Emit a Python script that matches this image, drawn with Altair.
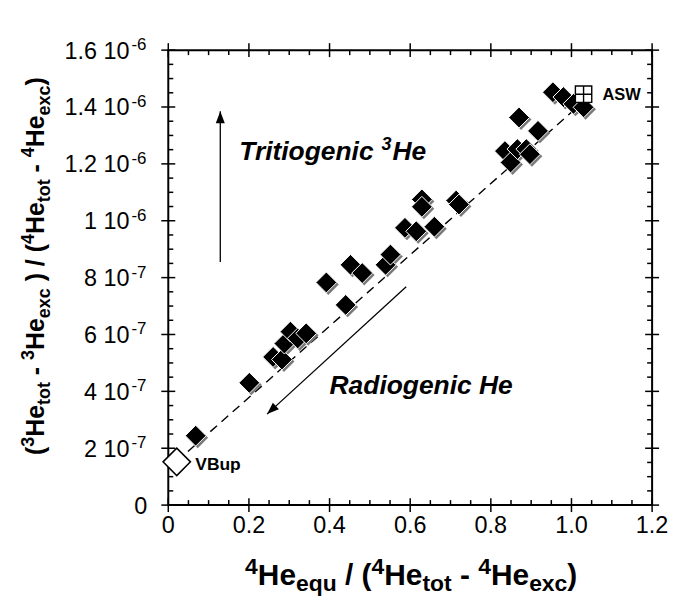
import math
import altair as alt
import pandas as pd

# ---------------- data ----------------
obs_x = [0.068, 0.201, 0.260, 0.282, 0.288, 0.303, 0.321, 0.342,
         0.392, 0.440, 0.452, 0.481, 0.539, 0.551, 0.587, 0.615, 0.660,
         0.629, 0.629, 0.714, 0.721,
         0.835, 0.849, 0.866, 0.888, 0.897, 0.870, 0.917,
         0.954, 0.980, 1.005, 1.030]
obs_y = [2.44e-7, 4.30e-7, 5.21e-7, 5.12e-7, 5.68e-7, 6.10e-7, 5.86e-7, 6.04e-7,
         7.83e-7, 7.04e-7, 8.45e-7, 8.16e-7, 8.45e-7, 8.81e-7, 9.75e-7, 9.63e-7, 9.79e-7,
         1.075e-6, 1.049e-6, 1.071e-6, 1.057e-6,
         1.245e-6, 1.205e-6, 1.252e-6, 1.252e-6, 1.234e-6, 1.363e-6, 1.316e-6,
         1.452e-6, 1.435e-6, 1.411e-6, 1.399e-6]

vbup_x = [0.021]
vbup_y = [1.52e-7]
asw_x = [1.03]
asw_y = [1.445e-6]
mix_x = [0.021, 1.033]
mix_y = [1.54e-7, 1.423e-6]

# arrows (start -> tip)
arrow_x = [0.129, 0.590]
arrow_y = [0.855e-6, 0.768e-6]
arrow_x2 = [0.129, 0.245]
arrow_y2 = [1.385e-6, 0.320e-6]

x_major = [0, 0.2, 0.4, 0.6, 0.8, 1.0, 1.2]
x_labels = ["0", "0.2", "0.4", "0.6", "0.8", "1.0", "1.2"]
x_minor = [0.05, 0.1, 0.15, 0.25, 0.3, 0.35, 0.45, 0.5, 0.55, 0.65, 0.7, 0.75,
           0.85, 0.9, 0.95, 1.05, 1.1, 1.15]
y_major = [0, 2e-7, 4e-7, 6e-7, 8e-7, 1e-6, 1.2e-6, 1.4e-6, 1.6e-6]
y_label_base = ["0", "2 10", "4 10", "6 10", "8 10", "1 10", "1.2 10", "1.4 10", "1.6 10"]
y_label_exp = ["", "-7", "-7", "-7", "-7", "-6", "-6", "-6", "-6"]
y_minor = [k * 5e-8 for k in range(1, 32) if k % 4 != 0]

# ---------------- layout ----------------
W, H = 486, 457
XMAX, YMAX = 1.2, 1.6e-6
FONT = "Liberation Sans"
xs = alt.Scale(domain=[0, XMAX], nice=False, zero=False)
ys = alt.Scale(domain=[0, YMAX], nice=False, zero=False)


def X(f="x"):
    return alt.X(f"{f}:Q", scale=xs, axis=None)


def Y(f="y"):
    return alt.Y(f"{f}:Q", scale=ys, axis=None)


def px(v):
    return v / XMAX * W


def py(v):
    return H - v / YMAX * H


one = pd.DataFrame({"a": [0]})
layers = []

# ticks
xmaj = pd.DataFrame({"v": x_major})
xmin = pd.DataFrame({"v": x_minor})
ymaj = pd.DataFrame({"v": y_major})
ymin = pd.DataFrame({"v": y_minor})
rule = dict(color="black", strokeWidth=1.5)
layers += [
    alt.Chart(xmaj).mark_rule(**rule).encode(x=X("v"), y=alt.value(H - 7), y2=alt.value(H + 7)),
    alt.Chart(xmaj).mark_rule(**rule).encode(x=X("v"), y=alt.value(-7), y2=alt.value(7)),
    alt.Chart(xmin).mark_rule(**rule).encode(x=X("v"), y=alt.value(H - 5), y2=alt.value(H)),
    alt.Chart(xmin).mark_rule(**rule).encode(x=X("v"), y=alt.value(0), y2=alt.value(5)),
    alt.Chart(ymaj).mark_rule(**rule).encode(y=Y("v"), x=alt.value(-7), x2=alt.value(7)),
    alt.Chart(ymaj).mark_rule(**rule).encode(y=Y("v"), x=alt.value(W - 7), x2=alt.value(W + 7)),
    alt.Chart(ymin).mark_rule(**rule).encode(y=Y("v"), x=alt.value(0), x2=alt.value(5)),
    alt.Chart(ymin).mark_rule(**rule).encode(y=Y("v"), x=alt.value(W - 5), x2=alt.value(W)),
]

# tick labels
TICK, TSUP = 23.5, 17
xl = pd.DataFrame({"v": x_major, "t": x_labels})
layers.append(
    alt.Chart(xl).mark_text(font=FONT, fontSize=TICK, align="center", baseline="alphabetic", color="black")
    .encode(x=X("v"), y=alt.value(H + 28), text="t:N"))
yl = pd.DataFrame({"v": y_major, "t": y_label_base, "e": y_label_exp})
yl0 = yl[yl["e"] == ""]
yl1 = yl[yl["e"] != ""]
layers.append(
    alt.Chart(yl1).mark_text(font=FONT, fontSize=TICK, align="right", baseline="alphabetic", dy=8.5, color="black")
    .encode(y=Y("v"), x=alt.value(-39), text="t:N"))
layers.append(
    alt.Chart(yl1).mark_text(font=FONT, fontSize=TSUP, align="left", baseline="alphabetic", dy=0, color="black")
    .encode(y=Y("v"), x=alt.value(-37), text="e:N"))
layers.append(
    alt.Chart(yl0).mark_text(font=FONT, fontSize=TICK, align="right", baseline="alphabetic", dy=8.5, color="black")
    .encode(y=Y("v"), x=alt.value(-21), text="t:N"))

# titles composed of pieces
BOLD = {' ': 278, '(': 333, ')': 333, '/': 278, '-': 333, 'H': 722, 'e': 556, 'q': 611,
        'u': 611, 't': 333, 'o': 611, 'x': 556, 'c': 556, '3': 556, '4': 556}


def tw(s, size):
    return sum(BOLD[c] for c in s) / 1000 * size


def compose(parts, F, s, up, down):
    out, pos = [], 0.0
    for t, k in parts:
        size = F if k == "n" else s
        off = 0 if k == "n" else (-up if k == "sup" else down)
        lead = len(t) - len(t.lstrip(" "))
        body = t.strip(" ")
        if body:
            out.append((body, pos + tw(" " * lead, size), off, size))
        pos += tw(t, size)
    return out, pos


def piece(t, x, y, size, angle=0):
    return alt.Chart(one).mark_text(text=t, font=FONT, fontSize=size, fontWeight="bold",
                                    align="left", baseline="alphabetic", angle=angle,
                                    color="black").encode(x=alt.value(x), y=alt.value(y))


xt_parts = [("4", "sup"), ("He", "n"), ("equ", "sub"), (" / (", "n"), ("4", "sup"), ("He", "n"),
            ("tot", "sub"), (" - ", "n"), ("4", "sup"), ("He", "n"), ("exc", "sub"), (")", "n")]
pieces, total = compose(xt_parts, 30, 23, 11, 6)
cx, base = 244, 537
for t, pos, off, size in pieces:
    layers.append(piece(t, cx - total / 2 + pos, base + off, size))

yt_parts = [("(", "n"), ("3", "sup"), ("He", "n"), ("tot", "sub"), (" - ", "n"), ("3", "sup"),
            ("He", "n"), ("exc", "sub"), (" ) / (", "n"), ("4", "sup"), ("He", "n"), ("tot", "sub"),
            (" - ", "n"), ("4", "sup"), ("He", "n"), ("exc", "sub"), (")", "n")]
pieces, total = compose(yt_parts, 25, 18, 10, 6)
cy, basex = 217, -125
for t, pos, off, size in pieces:
    layers.append(piece(t, basex + off, cy + total / 2 - pos, size, angle=270))

# mixing line
mix = pd.DataFrame({"x": mix_x, "y": mix_y})
layers.append(alt.Chart(mix).mark_line(color="black", strokeWidth=1.4, strokeDash=[9, 6]).encode(x=X(), y=Y()))

# arrows
arr = pd.DataFrame({"x": arrow_x, "y": arrow_y, "x2": arrow_x2, "y2": arrow_y2})
arr["ang"] = [
    (math.degrees(math.atan2(px(b) - px(a), -(py(d) - py(c)))) + 360) % 360
    for a, b, c, d in zip(arrow_x, arrow_x2, arrow_y, arrow_y2)
]
layers.append(alt.Chart(arr).mark_rule(color="black", strokeWidth=1.3).encode(
    x=X("x"), y=Y("y"), x2="x2:Q", y2="y2:Q"))
layers.append(alt.Chart(arr).mark_point(shape="M0,0L-0.75,2L0.75,2Z", filled=True, color="black",
                                        size=144, opacity=1).encode(
    x=X("x2"), y=Y("y2"), angle=alt.Angle("ang:Q", scale=None)))

# points
pts = pd.DataFrame({"x": obs_x, "y": obs_y})
layers.append(alt.Chart(pts).mark_point(shape="diamond", filled=True, color="#7a7a7a", size=440,
                                        opacity=1, xOffset=2, yOffset=2).encode(x=X(), y=Y()))
layers.append(alt.Chart(pts).mark_point(shape="diamond", filled=True, fill="black", stroke="white",
                                        strokeWidth=1, size=440, opacity=1).encode(x=X(), y=Y()))
vb = pd.DataFrame({"x": vbup_x, "y": vbup_y})
layers.append(alt.Chart(vb).mark_point(shape="diamond", filled=True, fill="white", stroke="black",
                                       strokeWidth=1.5, size=760, opacity=1).encode(x=X(), y=Y()))
aw = pd.DataFrame({"x": asw_x, "y": asw_y})
layers.append(alt.Chart(aw).mark_point(shape="M-1,-1H1V1H-1Z M0,-1V1 M-1,0H1", filled=True, fill="white",
                                       stroke="black", strokeWidth=1.4, size=270, opacity=1).encode(x=X(), y=Y()))

# annotations
ann = dict(font=FONT, fontWeight="bold", color="black", align="left", baseline="alphabetic")
layers.append(alt.Chart(pd.DataFrame({"x": [1.077], "y": [1.425e-6]})).mark_text(
    text="ASW", fontSize=16.5, **ann).encode(x=X(), y=Y()))
layers.append(alt.Chart(pd.DataFrame({"x": [0.067], "y": [0.125e-6]})).mark_text(
    text="VBup", fontSize=17.5, **ann).encode(x=X(), y=Y()))
AF, AS = 26.5, 18
w1 = sum({'T': 611, 'r': 389, 'i': 278, 't': 333, 'o': 611, 'g': 611, 'e': 556, 'n': 611, 'c': 556, ' ': 278}[c]
         for c in "Tritiogenic ") / 1000 * AF
tri = pd.DataFrame({"x": [0.176], "y": [1.213e-6]})
layers.append(alt.Chart(tri).mark_text(text="Tritiogenic", fontSize=AF, fontStyle="italic", **ann).encode(x=X(), y=Y()))
layers.append(alt.Chart(tri).mark_text(text="3", fontSize=AS, fontStyle="italic", dx=w1, dy=-10, **ann).encode(x=X(), y=Y()))
layers.append(alt.Chart(tri).mark_text(text="He", fontSize=AF, fontStyle="italic", dx=w1 + 0.556 * AS + 1, **ann).encode(x=X(), y=Y()))
layers.append(alt.Chart(pd.DataFrame({"x": [0.400], "y": [0.391e-6]})).mark_text(
    text="Radiogenic He", fontSize=AF, fontStyle="italic", **ann).encode(x=X(), y=Y()))

chart = alt.layer(*layers).properties(
    width=W, height=H,
    padding={"left": 161, "top": 41, "right": 25, "bottom": 93},
    autosize=alt.AutoSizeParams(type="none"),
).configure_view(stroke="black", strokeWidth=2)

chart.save("out.html", embed_options={"renderer": "svg", "actions": False})
